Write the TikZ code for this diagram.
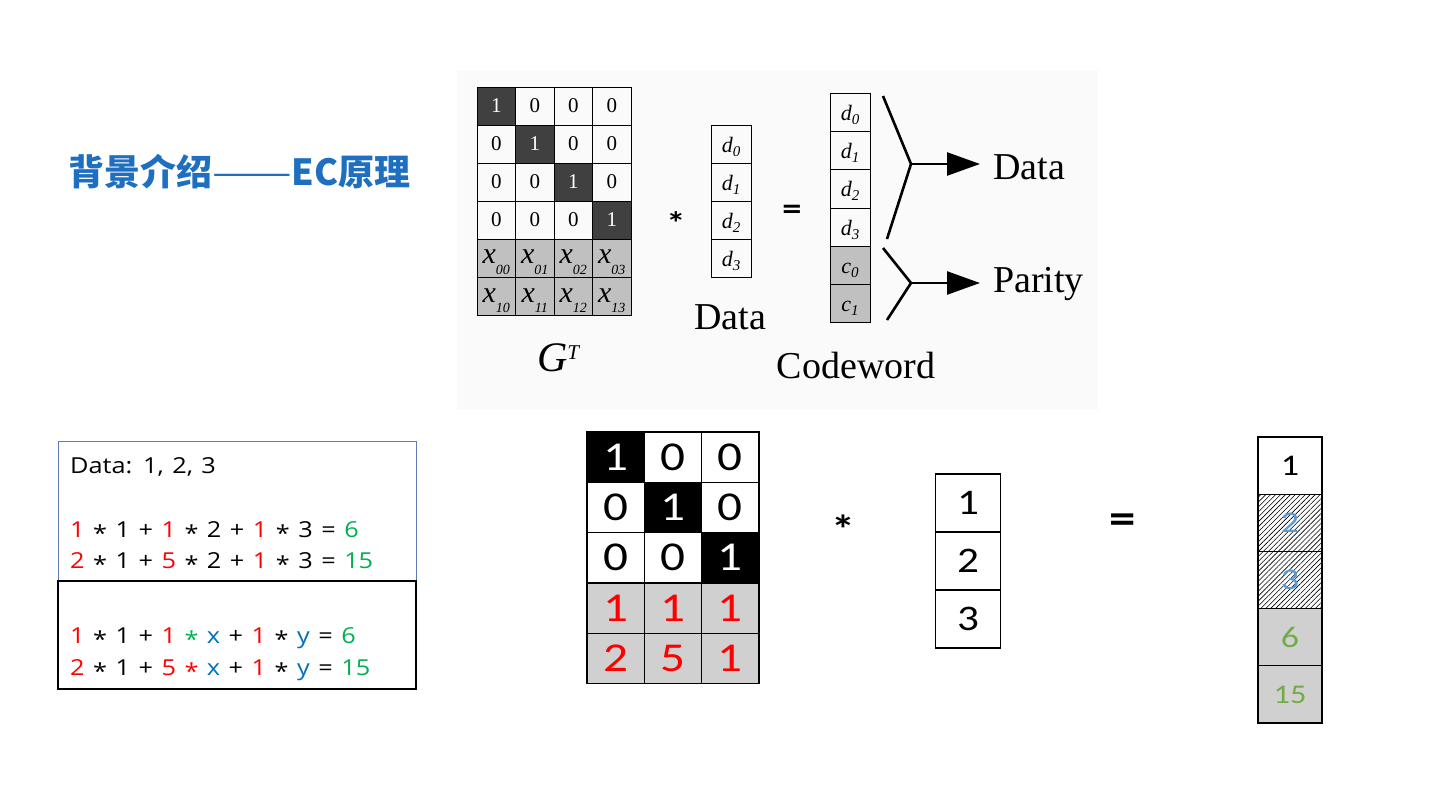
\documentclass[tikz,border=0pt]{standalone}
\usepackage{fontspec}
\setmainfont{Liberation Serif}
\newfontfamily\cjkfont{Noto Sans CJK SC}
\newfontfamily\calfont{Carlito}[FakeStretch=1.2,Numbers=Lining]
\newfontfamily\opfont{Open Sans}[FakeStretch=1.15]
\usepackage{xcolor}
\usepackage{tikz}
\usetikzlibrary{positioning,arrows.meta,patterns.meta}
\definecolor{cazul}{HTML}{1E6FC0}
\definecolor{crojo}{HTML}{FF0000}
\definecolor{cverde}{HTML}{00B050}
\definecolor{cazulx}{HTML}{0070C0}
\definecolor{cazulc}{HTML}{5B9BD5}
\definecolor{cverdec}{HTML}{70AD47}
\definecolor{cborde}{HTML}{5B7DB8}
\definecolor{coscuro}{HTML}{404040}
\definecolor{cgris}{HTML}{C0C0C0}
\definecolor{cgrisc}{HTML}{D0D0D0}
\definecolor{cfondo}{HTML}{FAFAFA}
\newcommand{\fsz}[1]{\fontsize{#1}{#1}\selectfont}
\newcommand{\xsub}[1]{\raisebox{-6pt}[0pt][0pt]{{\fsz{30}\itshape x}\raisebox{-11pt}{\fsz{14}\itshape #1}}}
\newcommand{\dsub}[2]{\raisebox{-8pt}[0pt][0pt]{{\fsz{22}\itshape #1}\raisebox{-4pt}{\fsz{15}\itshape #2}}}
\newcommand{\estr}{\raisebox{-4pt}{*}}
\newcommand{\rj}[1]{\textcolor{crojo}{#1}}
\newcommand{\vd}[1]{\textcolor{cverde}{#1}}
\newcommand{\az}[1]{\textcolor{cazulx}{#1}}

\begin{document}
\begin{tikzpicture}[x=1pt,y=-1pt,
  gcelda/.style={draw,line width=0.8pt,minimum width=38.5pt,minimum height=38pt,inner sep=0pt,font=\fsz{21}},
  dcelda/.style={draw,line width=0.8pt,minimum width=40pt,minimum height=38.2pt,inner sep=0pt},
  mcelda/.style={draw,line width=1.2pt,minimum width=57.3pt,minimum height=50.3pt,inner sep=0pt,font=\calfont\fsz{41}},
  vcelda/.style={draw,line width=1.2pt,minimum width=65pt,minimum height=58pt,inner sep=0pt,font=\calfont\fsz{36}},
  rcelda/.style={draw,line width=1.2pt,minimum width=64pt,minimum height=57.2pt,inner sep=0pt,font=\calfont\fsz{30}},
  rayado/.style={pattern={Lines[angle=45,distance=3.5pt,line width=0.6pt]},pattern color=black},
  ecuacion/.style={anchor=base west,inner sep=0pt,font=\opfont\fsz{22},execute at begin node={\spaceskip=8.5pt\relax}},
  etiqueta/.style={anchor=base,inner sep=0pt,font=\fsz{38}}]
  \useasboundingbox (0,0) rectangle (1440,810);
  \node[anchor=west,inner sep=0pt,text=cazul,font=\cjkfont\bfseries\fsz{36}] (titulo) at (68,172) {背景介绍{\mdseries\scalebox{1.32}[1]{——}}EC原理};

  \fill[cfondo] (457,70) rectangle (1098,410);
  \foreach \r in {0,...,3}
    \foreach \c in {0,...,3}{
      \ifnum\r=\c
        \node[gcelda,fill=coscuro,text=white] (g\r\c) at ({477+38.5*(\c+0.5)},{87+38*(\r+0.5)}) {1};
      \else
        \node[gcelda] (g\r\c) at ({477+38.5*(\c+0.5)},{87+38*(\r+0.5)}) {0};
      \fi}
  \foreach \k in {0,1}
    \foreach \c in {0,...,3}
      \node[gcelda,fill=cgris] (gx\k\c) at ({477+38.5*(\c+0.5)},{87+38*(\k+4.5)}) {\xsub{\k\c}};
  \node[inner sep=0pt,font=\fsz{42}] (lgt) at (558,358) {\textit{G}\raisebox{12pt}{\fsz{21}\itshape T}};
  \node[font=\calfont\bfseries\fsz{32}] (por1) at (676,223) {*};
  \foreach \i in {0,...,3}
    \node[dcelda] (d\i) at (731,{125+38.2*(\i+0.5)}) {\dsub{d}{\i}};
  \node[etiqueta] (ldata) at (730,329) {Data};
  \node[font=\calfont\bfseries\fsz{32}] (igual1) at (792,212) {=};
  \foreach \i in {0,...,3}
    \node[dcelda] (cw\i) at (850,{93.5+38.2*(\i+0.5)}) {\dsub{d}{\i}};
  \foreach \i in {0,1}
    \node[dcelda,fill=cgris] (cp\i) at (850,{93.5+38.2*(\i+4.5)}) {\dsub{c}{\i}};
  \node[etiqueta] (lcw) at (856,378) {Codeword};

  \coordinate (ba) at (883,96);
  \coordinate (bv) at (911,164);
  \coordinate (bb) at (887,239);
  \coordinate (ca) at (883,248);
  \coordinate (cv) at (911,283);
  \coordinate (cb) at (887,320);
  \coordinate (fa) at (980,164);
  \coordinate (fb) at (980,283);
  \node[etiqueta,anchor=base west] (tdata) at (993,180) {Data};
  \node[etiqueta,anchor=base west] (tpar) at (993,293) {Parity};
  \draw[line width=2.6pt] (ba) -- (bv) -- (bb);
  \draw[line width=2.6pt] (ca) -- (cv) -- (cb);
  \draw[line width=2.6pt,-{Triangle[length=33pt,width=23pt]}] (bv) -- (fa);
  \draw[line width=2.6pt,-{Triangle[length=33pt,width=23pt]}] (cv) -- (fb);

  \draw[cborde,line width=1pt] (58,441) rectangle (416,581);
  \draw[line width=1.6pt] (58,581) rectangle (416,689);
  \node[ecuacion] (edata) at (70,473) {Data: 1, 2, 3};
  \node[ecuacion] (e1) at (70,537) {\rj{1} \estr{} 1 + \rj{1} \estr{} 2 + \rj{1} \estr{} 3 = \vd{6}};
  \node[ecuacion] (e2) at (70,568) {\rj{2} \estr{} 1 + \rj{5} \estr{} 2 + \rj{1} \estr{} 3 = \vd{15}};
  \node[ecuacion] (e3) at (70,643) {\rj{1} \estr{} 1 + \rj{1} \vd{\estr} \az{x} + \rj{1} \estr{} \az{y} = \vd{6}};
  \node[ecuacion] (e4) at (70,675) {\rj{2} \estr{} 1 + \rj{5} \rj{\estr} \az{x} + \rj{1} \estr{} \az{y} = \vd{15}};

  \foreach \r in {0,1,2}
    \foreach \c in {0,1,2}{
      \ifnum\r=\c
        \node[mcelda,fill=black,text=white] (m\r\c) at ({587+57.3*(\c+0.5)},{432+50.3*(\r+0.5)}) {1};
      \else
        \node[mcelda] (m\r\c) at ({587+57.3*(\c+0.5)},{432+50.3*(\r+0.5)}) {0};
      \fi}
  \foreach \v [count=\c from 0] in {1,1,1}
    \node[mcelda,fill=cgrisc,text=crojo] (m3\c) at ({587+57.3*(\c+0.5)},{432+50.3*3.5}) {\v};
  \foreach \v [count=\c from 0] in {2,5,1}
    \node[mcelda,fill=cgrisc,text=crojo] (m4\c) at ({587+57.3*(\c+0.5)},{432+50.3*4.5}) {\v};
  \node[anchor=base,inner sep=0pt,font=\calfont\bfseries\fsz{40}] (por2) at (843,543) {*};
  \foreach \v [count=\i from 0] in {1,2,3}
    \node[vcelda] (v\i) at (968,{474+58*(\i+0.5)}) {\v};
  \node[inner sep=0pt,font=\calfont\bfseries\fsz{44}] (igual2) at (1123,524) {=};
  \node[rcelda] (r0) at (1290,{437+57.2*0.5}) {1};
  \node[rcelda,rayado,text=cazulc] (r1) at (1290,{437+57.2*1.5}) {2};
  \node[rcelda,rayado,text=cazulc] (r2) at (1290,{437+57.2*2.5}) {3};
  \node[rcelda,fill=cgrisc,text=cverdec] (r3) at (1290,{437+57.2*3.5}) {6};
  \node[rcelda,fill=cgrisc,text=cverdec,font=\calfont\fsz{27}] (r4) at (1290,{437+57.2*4.5}) {15};
\end{tikzpicture}
\end{document}
